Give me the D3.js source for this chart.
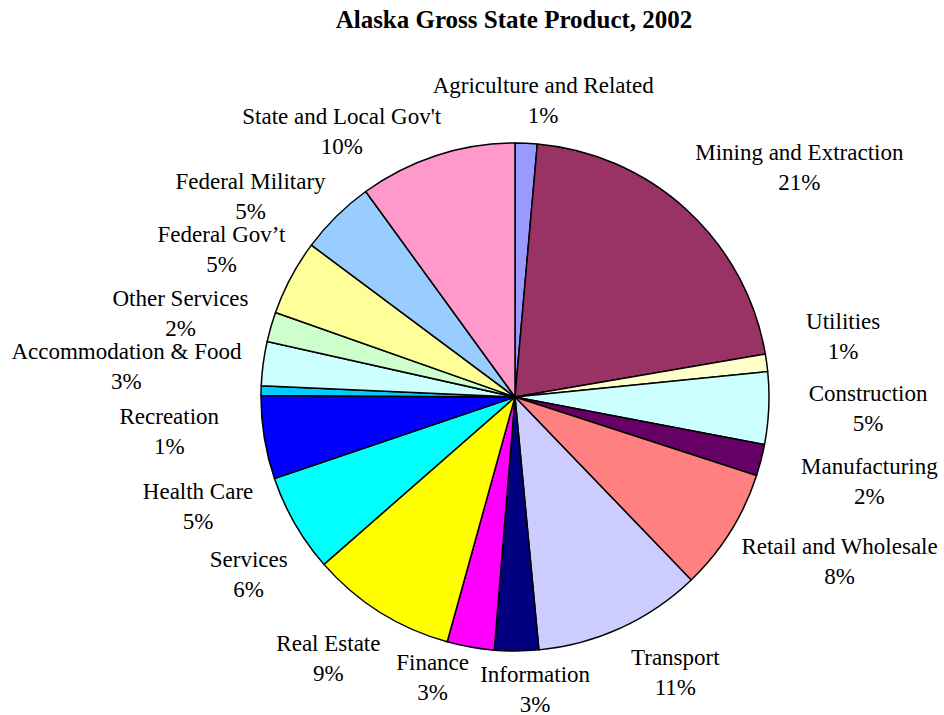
<!DOCTYPE html>
<html>
<head>
<meta charset="utf-8">
<script src="https://cdn.jsdelivr.net/npm/d3@7"></script>
<style>
  body { margin: 0; background: #fff; }
  text { font-family: "Palatino Linotype", "Book Antiqua", Palatino, "Liberation Serif", serif; fill: #000; }
</style>
</head>
<body>
<div id="chart"></div>
<script>
////////////////////////////////////////////////////////////////
// Data (share of gross state product, percent)

let sectors = ["Agriculture and Related", "Mining and Extraction", "Utilities",
  "Construction", "Manufacturing", "Retail and Wholesale", "Transport",
  "Information", "Finance", "Real Estate", "Services", "Health Care",
  "Recreation", "Accommodation & Food", "Other Services", "Federal Gov\u2019t",
  "Federal Military", "State and Local Gov't"]

let shares = [1.4, 20.9, 1.1, 4.6, 2.0, 7.8, 10.7, 2.8, 3.0, 9.25, 6.25, 5.3,
  0.6, 2.8, 1.9, 4.8, 4.8, 10.0]

let colors = ["#9999ff", "#993366", "#ffffcc", "#ccffff", "#660066", "#ff8080",
  "#ccccff", "#000080", "#ff00ff", "#ffff00", "#00ffff", "#0000ff",
  "#00ccff", "#ccffff", "#ccffcc", "#ffff99", "#99ccff", "#ff99cc"]

// hand nudges for the label placement (Excel moves some labels apart)
let labelNudge = [[11, 8], [24, -6], [14, -20], [14, -2], [17, 8], [4, 2],
  [25, -2], [18, -13], [-27, -20], [-10, 3], [10, 25], [14, 60],
  [-16, 42], [3, 9], [0, 0], [10, -4], [-15, 16], [-56, 24]]


////////////////////////////////////////////////////////////////
// Setup

let width = 944, height = 715
let cx = 515, cy = 397, radius = 254

let svg = d3.select("#chart").append("svg")
  .attr("width", width)
  .attr("height", height)

svg.append("text")
  .attr("x", 514)
  .attr("y", 28)
  .attr("text-anchor", "middle")
  .attr("font-weight", "bold")
  .attr("font-size", 25)
  .text("Alaska Gross State Product, 2002")

let total = d3.sum(shares)
let fmt = d3.format(".0%")

let pie = d3.pie().sort(null).value(d => d.value)
let arc = d3.arc().innerRadius(0).outerRadius(radius)

let data = sectors.map((s, i) => ({ name: s, value: shares[i], color: colors[i], nudge: labelNudge[i] }))
let arcs = pie(data)

let g = svg.append("g")
  .attr("transform", `translate(${cx},${cy})`)

g.selectAll("path")
  .data(arcs)
  .enter()
  .append("path")
  .attr("d", arc)
  .attr("fill", d => d.data.color)
  .attr("stroke", "#000")
  .attr("stroke-width", 1.5)
  .attr("stroke-linejoin", "round")


////////////////////////////////////////////////////////////////
// Labels: name + percent, box pushed outward from the slice middle

let labelR = 280, lineGap = 30, boxH = 50

let labels = g.selectAll("text.lbl")
  .data(arcs)
  .enter()
  .append("text")
  .attr("class", "lbl")
  .attr("text-anchor", "middle")
  .attr("font-size", 23)

labels.append("tspan")
  .attr("class", "nm")
  .attr("x", 0)
  .attr("y", -lineGap / 2)
  .attr("dy", "0.35em")
  .text(d => d.data.name)

labels.append("tspan")
  .attr("x", 0)
  .attr("y", lineGap / 2)
  .attr("dy", "0.35em")
  .text(d => fmt(d.data.value / total))

labels.each(function(d) {
  let a = (d.startAngle + d.endAngle) / 2
  let w = d3.select(this).select("tspan.nm").node().getComputedTextLength()
  let s = Math.sin(a), c = Math.cos(a)
  let x = labelR * s + (w / 2) * s + d.data.nudge[0]
  let y = -labelR * c - (boxH / 2) * c + d.data.nudge[1]
  d3.select(this).attr("transform", `translate(${x},${y})`)
})
</script>
</body>
</html>
